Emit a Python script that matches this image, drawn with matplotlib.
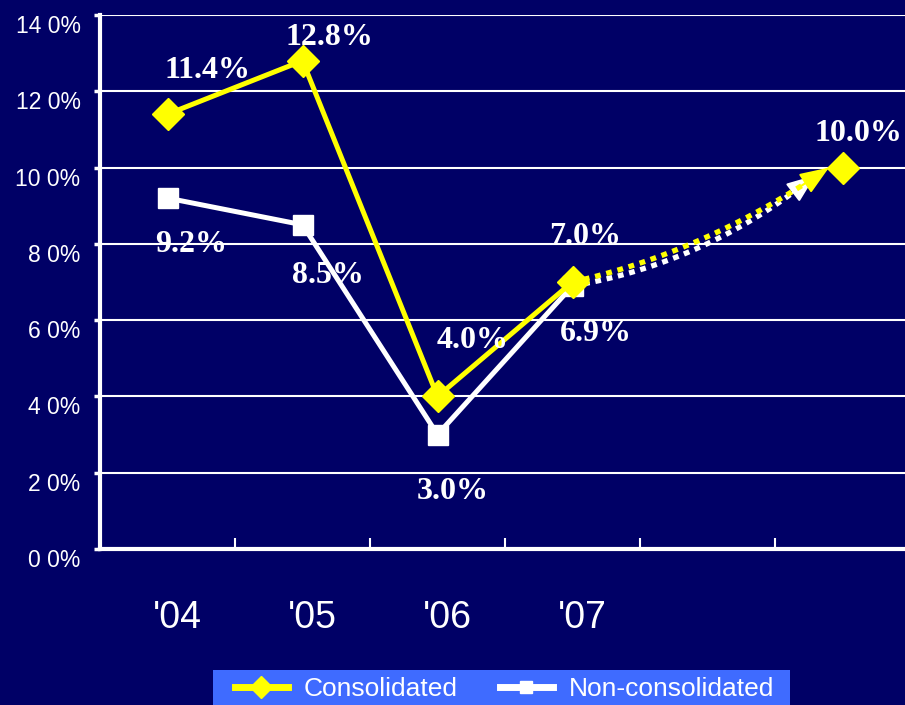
import matplotlib
matplotlib.use('Agg')
import matplotlib.pyplot as plt
from matplotlib.lines import Line2D
from matplotlib.patches import Rectangle
import numpy as np

# ordinary income ratio, actual results and target
years = ["'04", "'05", "'06", "'07"]
consolidated = [11.4, 12.8, 4.0, 7.0]
non_consolidated = [9.2, 8.5, 3.0, 6.9]
target = 10.0
yticks = [0, 2, 4, 6, 8, 10, 12, 14]
ytick_labels = ['0 0%', '2 0%', '4 0%', '6 0%', '8 0%', '10 0%', '12 0%', '14 0%']

# where each value label sits relative to its point (pixels)
cons_offsets = [(40, 44), (27, 23), (35, 56), (13, 46)]
non_offsets = [(24, -46), (25, -51), (15, -57), (23, -48)]

navy = '#000066'
yellow = '#FFFF00'
legend_blue = '#3F6BFF'


def bezier(p0, c, p2, n=60):
    t = np.linspace(0, 1, n)[:, None]
    p0, c, p2 = map(np.asarray, (p0, c, p2))
    pts = (1 - t) ** 2 * p0 + 2 * (1 - t) * t * c + t ** 2 * p2
    return pts[:, 0], pts[:, 1]


def dotted_arrow(ax, start, ctrl, end, color, z):
    bx, by = bezier(start, ctrl, end)
    ax.plot(bx[:-5], by[:-5], color=color, lw=3.8, linestyle=(0, (1.1, 1.1)),
            dash_capstyle='butt', zorder=z)
    ax.annotate('', xy=(bx[-1], by[-1]), xytext=(bx[-8], by[-8]),
                arrowprops=dict(arrowstyle='-|>,head_length=1.8,head_width=0.7',
                                color=color, lw=1.5, shrinkA=0, shrinkB=0),
                zorder=z)


fig = plt.figure(figsize=(9.05, 7.05), dpi=100, facecolor=navy)
ax = fig.add_axes([100 / 905, 1 - 549 / 705, 810 / 905, 534 / 705])
ax.set_facecolor(navy)

x = list(range(len(years)))
ax.plot(x, consolidated, color=yellow, lw=3.6, marker='D', ms=16,
        mec=yellow, mfc=yellow, zorder=5)
ax.plot(x, non_consolidated, color='white', lw=3.6, marker='s', ms=14,
        mec='white', mfc='white', zorder=4)
ax.plot([5], [target], color=yellow, marker='D', ms=16, lw=0, zorder=5)

# dotted projection arrows towards the target
dotted_arrow(ax, (x[-1], non_consolidated[-1]), (4.0, 7.5), (4.8, 9.8), 'white', 3)
dotted_arrow(ax, (x[-1], consolidated[-1]), (4.0, 7.8), (4.9, target), yellow, 4)

lab_font = dict(family='Liberation Serif', weight='bold', size=23,
                color='white', ha='center', va='center', zorder=6)
for i, v in enumerate(consolidated):
    ax.annotate(f'{v:.1f}%', (i, v), xytext=cons_offsets[i],
                textcoords='offset pixels', **lab_font)
for i, v in enumerate(non_consolidated):
    ax.annotate(f'{v:.1f}%', (i, v), xytext=non_offsets[i],
                textcoords='offset pixels', **lab_font)
ax.annotate(f'{target:.1f}%', (5, target), xytext=(16, 34),
            textcoords='offset pixels', **lab_font)

ax.set_xlim(-0.5, 5.5)
ax.set_ylim(0, 14)
ax.set_yticks(yticks)
# the percentage labels hang a little below their gridlines
ax.set_yticklabels(ytick_labels, family='Liberation Sans', fontsize=16.5,
                   color='white', va='top')
ax.grid(axis='y', color='white', lw=1.5)
ax.set_axisbelow(True)

# category ticks sit between the groups, labels sit under the groups
ax.set_xticks([0.5, 1.5, 2.5, 3.5, 4.5])
ax.set_xticklabels([])
ax.tick_params(axis='x', direction='in', length=8, width=1.5, colors='white')
ax.tick_params(axis='y', direction='out', length=4, width=2.5, colors='white',
               pad=10)
for i, yr in enumerate(years):
    ax.text(i + 0.07, -1.8, yr, family='Liberation Sans',
            fontsize=27, color='white', ha='center', va='center')

for side in ['top', 'right']:
    ax.spines[side].set_visible(False)
ax.spines['left'].set_color('white')
ax.spines['left'].set_linewidth(3)
ax.spines['bottom'].set_color('white')
ax.spines['bottom'].set_linewidth(3)

# legend panel runs off the bottom edge
fig.patches.append(Rectangle((213 / 905, 0), 577 / 905, 35 / 705,
                             transform=fig.transFigure, facecolor=legend_blue,
                             edgecolor='none', zorder=0))
handles = [
    Line2D([], [], color=yellow, lw=5, marker='D', ms=11, mfc=yellow, mec=yellow),
    Line2D([], [], color='white', lw=5, marker='s', ms=9, mfc='white', mec='white'),
]
leg = fig.legend(handles, ['Consolidated', 'Non-consolidated'],
                 loc='center left', bbox_to_anchor=(235 / 905, 1 - 689 / 705),
                 ncol=2, frameon=False,
                 prop=dict(family='Liberation Sans', size=19),
                 labelcolor='white', handlelength=2.0, columnspacing=1.6,
                 borderpad=0, handletextpad=0.6, borderaxespad=0)

fig.savefig('out.png', dpi=100, facecolor=navy)
